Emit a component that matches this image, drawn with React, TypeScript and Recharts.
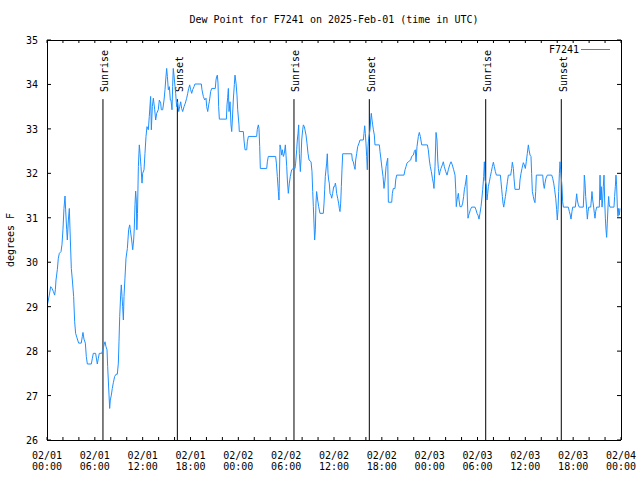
import { LineChart, Line, XAxis, YAxis, ReferenceLine } from "recharts";

const FONT = "'DejaVu Sans Mono', monospace";
const BLUE = "#1e90ff";

// [hours since 2025-02-01 00:00 UTC, dew point degF]
const feb01: [number, number][] = [
  [0.0, 29.0], [0.17, 29.15], [0.29, 29.26], [0.46, 29.45], [0.63, 29.41], [0.8, 29.34], [0.96, 29.26], [1.05, 29.38], [1.13, 29.6], [1.3, 29.84],
  [1.42, 30.09], [1.55, 30.2], [1.76, 30.24], [1.88, 30.4], [2.0, 30.73], [2.13, 31.21], [2.26, 31.49], [2.34, 31.18], [2.47, 30.73], [2.55, 30.5],
  [2.68, 30.95], [2.8, 31.21], [2.93, 30.5], [3.05, 29.86], [3.18, 29.6], [3.34, 29.23], [3.47, 28.66], [3.59, 28.4], [3.76, 28.3], [3.97, 28.18],
  [4.3, 28.18], [4.43, 28.33], [4.51, 28.42], [4.64, 28.27], [4.81, 28.18], [4.93, 27.88], [5.06, 27.71], [5.56, 27.71], [5.69, 27.84], [5.81, 27.95],
  [6.1, 27.95], [6.23, 27.8], [6.31, 27.71], [6.44, 27.84], [6.56, 27.95], [6.86, 27.95], [7.02, 28.03], [7.15, 28.14], [7.28, 28.21], [7.4, 28.1],
  [7.53, 28.03], [7.61, 27.65], [7.69, 27.35], [7.78, 27.01], [7.86, 26.71], [7.94, 26.9], [8.07, 27.01], [8.19, 27.16], [8.32, 27.29], [8.49, 27.43],
  [8.66, 27.48], [8.82, 27.48], [8.95, 27.73], [9.03, 28.21], [9.12, 28.78], [9.24, 29.26], [9.32, 29.49], [9.41, 29.23], [9.49, 29.0], [9.58, 28.7],
  [9.66, 29.23], [9.78, 29.64], [9.91, 30.09], [10.08, 30.31], [10.24, 30.73], [10.37, 30.84], [10.45, 30.73], [10.62, 30.5], [10.75, 30.28], [10.87, 30.5],
  [10.95, 30.77], [11.04, 31.3], [11.12, 31.6], [11.2, 31.4], [11.27, 30.73], [11.35, 31.1], [11.46, 32.15], [11.58, 32.64], [11.67, 32.45], [11.79, 32.15],
  [11.92, 31.78], [12.0, 32.0], [12.17, 32.08], [12.29, 32.45], [12.42, 32.83], [12.54, 33.05], [12.71, 32.98], [12.83, 33.28], [13.0, 33.73], [13.09, 32.98],
  [13.21, 33.5], [13.34, 33.69], [13.51, 33.43], [13.63, 33.2], [13.76, 33.35], [13.96, 33.43], [14.09, 33.65], [14.26, 33.58], [14.34, 33.43], [14.51, 33.43],
  [14.68, 33.65], [14.8, 33.88], [14.89, 34.1], [15.01, 34.36], [15.1, 34.18], [15.22, 33.88], [15.35, 33.95], [15.47, 33.65], [15.55, 33.65], [15.68, 33.43],
  [15.76, 33.95], [15.84, 34.36], [15.93, 34.21], [16.06, 33.95], [16.14, 33.8], [16.26, 33.5], [16.39, 33.61], [16.52, 33.39], [16.64, 33.5], [16.77, 33.61],
  [16.89, 33.46], [17.02, 33.39], [17.19, 33.5], [17.35, 33.58], [17.52, 33.69], [17.65, 33.8], [17.77, 33.91], [17.9, 33.99], [18.02, 33.88], [18.15, 33.8],
  [18.27, 33.88], [18.44, 33.95], [18.56, 34.01], [19.36, 34.01], [19.44, 33.88], [19.61, 33.73], [19.78, 33.65], [19.95, 33.69], [20.03, 33.5], [20.16, 33.39],
  [20.28, 33.54], [20.36, 33.61], [20.53, 33.84], [20.66, 33.91], [21.11, 33.91], [21.2, 34.1], [21.28, 34.18], [21.37, 34.21], [21.45, 34.03], [21.53, 33.5],
  [21.62, 33.22], [22.5, 33.22], [22.58, 33.54], [22.66, 33.7], [22.75, 33.91], [22.83, 33.39], [22.96, 33.61], [23.08, 33.09], [23.17, 32.94], [23.25, 33.2],
  [23.37, 33.65], [23.5, 34.0], [23.58, 34.21], [23.71, 34.03], [23.83, 33.76], [23.92, 33.43],
];

const feb02: [number, number][] = [
  [24.08, 33.09], [24.12, 32.94], [24.63, 32.94], [24.71, 32.75], [24.84, 32.53], [25.05, 32.53], [25.13, 32.71], [25.26, 32.83], [26.3, 32.83], [26.38, 32.99],
  [26.51, 33.09], [26.59, 33.01], [26.68, 32.6], [26.76, 32.11], [27.56, 32.11], [27.64, 32.26], [27.76, 32.38], [28.68, 32.38], [28.77, 32.23], [28.89, 31.93],
  [29.02, 31.59], [29.1, 31.4], [29.14, 31.78], [29.23, 32.64], [29.35, 32.53], [29.44, 32.41], [29.52, 32.53], [29.65, 32.38], [29.77, 32.45], [29.9, 32.64],
  [29.98, 32.41], [30.07, 32.15], [30.15, 31.85], [30.27, 31.55], [30.4, 31.78], [30.52, 31.93], [30.69, 32.08], [30.9, 32.11], [31.11, 32.11], [31.19, 32.23],
  [31.32, 32.53], [31.4, 32.75], [31.49, 32.9], [31.57, 33.09], [31.65, 32.45], [31.78, 32.04], [31.86, 32.3], [31.95, 32.75], [32.07, 32.98], [32.16, 33.09],
  [32.28, 33.05], [32.36, 32.98], [32.49, 32.86], [32.61, 32.68], [32.74, 32.45], [32.87, 32.3], [33.12, 32.26], [33.24, 32.04], [33.33, 31.59], [33.41, 31.25],
  [33.49, 30.88], [33.57, 30.5], [33.66, 30.73], [33.74, 31.33], [33.82, 31.59], [33.95, 31.4], [34.08, 31.25], [34.24, 31.1], [34.66, 31.1], [34.75, 31.33],
  [34.83, 31.63], [34.91, 31.93], [35.08, 32.23], [35.16, 32.44], [35.25, 32.0], [35.33, 31.85], [35.41, 31.78], [35.5, 31.55], [35.62, 31.51], [35.71, 31.44],
  [35.83, 31.55], [35.96, 31.7], [36.08, 31.7], [36.17, 31.78], [36.25, 31.7], [36.33, 31.55], [36.46, 31.44], [36.58, 31.33], [36.67, 31.21], [36.75, 31.14],
  [36.84, 31.33], [36.92, 31.7], [37.0, 32.08], [37.09, 32.44], [38.22, 32.44], [38.3, 32.3], [38.42, 32.26], [38.55, 32.15], [38.64, 32.09], [38.72, 32.3],
  [38.85, 32.45], [38.97, 32.6], [39.14, 32.68], [39.26, 32.75], [39.68, 32.75], [39.76, 32.9], [39.85, 33.07], [39.93, 32.9], [40.01, 32.68], [40.1, 32.38],
  [40.18, 32.08], [40.26, 32.6], [40.35, 32.79], [40.52, 32.98], [40.6, 33.2], [40.68, 33.35], [40.77, 33.2], [40.85, 33.09], [40.94, 32.98], [41.06, 32.86],
  [41.14, 32.64], [41.69, 32.64], [41.77, 32.49], [41.9, 32.3], [42.02, 32.11], [42.15, 31.93], [42.27, 31.66], [42.4, 31.85], [42.53, 32.15], [42.61, 32.23],
  [42.74, 32.34], [42.82, 31.35], [43.24, 31.35], [43.32, 31.55], [43.44, 31.66], [43.65, 31.66], [43.74, 31.85], [43.86, 31.96], [44.78, 31.96], [44.91, 32.08],
  [45.03, 32.15], [45.16, 32.23], [45.32, 32.26], [45.62, 32.3], [45.74, 32.38], [45.95, 32.41], [46.07, 32.49], [46.2, 32.53], [46.29, 32.26], [46.41, 32.6],
  [46.58, 32.83], [46.7, 32.92], [46.83, 32.83], [47.0, 32.64], [47.71, 32.64], [47.83, 32.53], [47.96, 32.3],
];

const feb03: [number, number][] = [
  [48.08, 32.15], [48.21, 32.04], [48.34, 31.89], [48.46, 31.78], [48.54, 31.66], [48.67, 32.15], [48.8, 32.92], [48.92, 32.75], [49.01, 32.3], [49.09, 32.11],
  [49.21, 31.96], [49.3, 32.04], [49.42, 32.11], [49.59, 32.19], [49.71, 32.26], [49.84, 32.15], [50.01, 32.04], [50.18, 31.96], [50.34, 32.08], [50.51, 32.19],
  [50.68, 32.26], [50.84, 32.19], [51.01, 32.08], [51.18, 31.96], [51.27, 31.63], [51.34, 31.25], [51.43, 31.4], [51.51, 31.48], [51.6, 31.55], [51.68, 31.4],
  [51.8, 31.25], [52.01, 31.25], [52.14, 31.33], [52.26, 31.48], [52.35, 31.63], [52.43, 31.7], [52.56, 31.85], [52.64, 31.96], [52.73, 31.4], [52.81, 30.99],
  [52.9, 31.06], [52.98, 31.1], [53.1, 31.18], [53.27, 31.24], [53.69, 31.24], [53.81, 31.18], [53.94, 31.1], [54.06, 31.06], [54.19, 30.97], [54.31, 31.1],
  [54.44, 31.25], [54.53, 31.4], [54.65, 31.63], [54.78, 31.93], [54.86, 32.26], [54.94, 31.85], [55.11, 31.74], [55.19, 31.4], [55.28, 31.55], [55.36, 31.7],
  [55.49, 31.81], [55.61, 31.93], [55.74, 32.04], [55.86, 32.15], [55.99, 32.25], [56.11, 32.15], [56.24, 32.04], [56.37, 31.96], [56.87, 31.96], [56.95, 31.81],
  [57.04, 31.63], [57.12, 31.48], [57.2, 31.33], [57.29, 31.24], [57.37, 31.33], [57.5, 31.48], [57.62, 31.63], [57.75, 31.81], [57.87, 31.96], [58.16, 31.96],
  [58.29, 32.11], [58.37, 32.25], [58.5, 32.11], [58.58, 31.89], [58.7, 31.64], [59.25, 31.64], [59.33, 31.85], [59.46, 32.0], [59.58, 32.11], [59.75, 32.24],
  [59.87, 32.19], [60.0, 32.11], [60.12, 32.26], [60.25, 32.45], [60.38, 32.64], [60.46, 32.53], [60.59, 32.41], [60.71, 32.38], [60.79, 32.0], [60.88, 31.59],
  [61.0, 31.48], [61.09, 31.4], [61.21, 31.34], [61.3, 31.59], [61.38, 31.96], [62.18, 31.96], [62.26, 31.78], [62.38, 31.66], [62.47, 31.78], [62.59, 31.89],
  [62.76, 31.96], [63.31, 31.96], [63.43, 31.89], [63.56, 31.78], [63.68, 31.63], [63.81, 31.44], [63.93, 31.18], [64.01, 30.95], [64.1, 31.18], [64.18, 31.59],
  [64.27, 32.0], [64.35, 32.26], [64.43, 32.08], [64.6, 31.7], [64.68, 31.36], [64.77, 31.24], [65.39, 31.24], [65.52, 31.14], [65.64, 31.06], [65.73, 30.97],
  [65.85, 31.14], [65.94, 31.24], [66.27, 31.24], [66.36, 31.4], [66.44, 31.54], [66.52, 31.4], [66.65, 31.29], [66.77, 31.24], [67.27, 31.24], [67.36, 31.63],
  [67.4, 31.96], [67.49, 31.78], [67.57, 31.48], [67.7, 31.18], [67.78, 30.97], [67.87, 31.14], [67.95, 31.24], [68.2, 31.24], [68.28, 31.4], [68.36, 31.59],
  [68.45, 31.4], [68.57, 31.24], [68.66, 31.1], [68.74, 30.99], [68.82, 31.14], [68.95, 31.24], [69.28, 31.24], [69.37, 31.96], [69.45, 31.4], [69.53, 31.7],
  [69.62, 31.24], [69.7, 31.4], [69.78, 31.7], [69.87, 31.96], [69.95, 31.4], [70.04, 30.99], [70.12, 30.73], [70.2, 30.56], [70.28, 30.88], [70.37, 31.24],
  [70.45, 31.48], [70.53, 31.29], [70.62, 31.24], [71.12, 31.24], [71.2, 31.48], [71.29, 31.7], [71.37, 31.96], [71.45, 31.74], [71.54, 31.24], [71.62, 31.03],
  [71.7, 31.21], [71.79, 31.06], [71.87, 31.21],
];

const sunrises = [7.02, 30.98, 55.03];
const sunsets = [16.35, 40.43, 64.51];

const xTicks = [0, 2, 4, 6, 8, 10, 12, 14, 16, 18, 20, 22, 24, 26, 28, 30, 32, 34, 36, 38, 40, 42, 44, 46, 48, 50, 52, 54, 56, 58, 60, 62, 64, 66, 68, 70, 72];
const yTicks = [26, 27, 28, 29, 30, 31, 32, 33, 34, 35];

const data = [...feb01, ...feb02, ...feb03].map(([h, dew]) => ({ h, dew }));

const events = [
  ...sunrises.map((h) => ({ h, label: "Sunrise" })),
  ...sunsets.map((h) => ({ h, label: "Sunset" })),
];

function tickText(h: number) {
  const day = Math.floor(h / 24) + 1;
  const hh = String(h % 24).padStart(2, "0");
  return [`02/0${day}`, `${hh}:00`];
}

function BottomTick({ x, y, payload }: any) {
  const v = payload.value;
  const [d, t] = tickText(v);
  return (
    <g>
      <line x1={x} x2={x} y1={y} y2={y - 3} stroke="#000" />
      {v % 6 === 0 && (
        <text textAnchor="middle" fontFamily={FONT} fontSize={10} fill="#000">
          <tspan x={x} y={y + 18.5}>{d}</tspan>
          <tspan x={x} y={y + 30}>{t}</tspan>
        </text>
      )}
    </g>
  );
}

function TopTick({ x, y }: any) {
  return <line x1={x} x2={x} y1={y} y2={y + 3} stroke="#000" />;
}

function LeftTick({ x, y, payload }: any) {
  return (
    <g>
      <line x1={x} x2={x + 4} y1={y} y2={y} stroke="#000" />
      <text x={x - 9} y={y + 4} textAnchor="end" fontFamily={FONT} fontSize={10} fill="#000">
        {payload.value}
      </text>
    </g>
  );
}

function RightTick({ x, y }: any) {
  return <line x1={x} x2={x - 4} y1={y} y2={y} stroke="#000" />;
}

function sunShape(label: string) {
  return (p: any) => {
    const top = Math.min(p.y1, p.y2);
    const bottom = Math.max(p.y1, p.y2);
    return (
      <g>
        <line x1={p.x1} x2={p.x1} y1={top} y2={bottom} stroke="#000" strokeWidth={1} />
        <text
          transform={`translate(${p.x1 + 5.5},${top - 7}) rotate(-90)`}
          fontFamily={FONT}
          fontSize={10}
          fill="#000"
        >
          {label}
        </text>
      </g>
    );
  };
}

const border = { stroke: "#000", shapeRendering: "crispEdges" } as any;

export default function App() {
  return (
    <div style={{ position: "absolute", left: 0, top: 0, width: 640, height: 480, background: "#fff" }}>
      <LineChart width={640} height={480} data={data} margin={{ top: 0, right: 0, bottom: 0, left: 0 }}>
        <XAxis
          dataKey="h"
          type="number"
          domain={[0, 72]}
          ticks={xTicks}
          interval={0}
          height={40}
          tickSize={0}
          tickMargin={0}
          tickLine={false}
          axisLine={border}
          tick={BottomTick}
          allowDataOverflow
        />
        <XAxis
          xAxisId="top"
          dataKey="h"
          orientation="top"
          type="number"
          domain={[0, 72]}
          ticks={xTicks}
          interval={0}
          height={40}
          tickSize={0}
          tickMargin={0}
          tickLine={false}
          axisLine={border}
          tick={TopTick}
          allowDataOverflow
        />
        <YAxis
          type="number"
          domain={[26, 35]}
          ticks={yTicks}
          interval={0}
          width={47}
          tickSize={0}
          tickMargin={0}
          tickLine={false}
          axisLine={border}
          tick={LeftTick}
          allowDataOverflow
        />
        <YAxis
          yAxisId="right"
          dataKey="dew"
          orientation="right"
          type="number"
          domain={[26, 35]}
          ticks={yTicks}
          interval={0}
          width={19}
          tickSize={0}
          tickMargin={0}
          tickLine={false}
          axisLine={border}
          tick={RightTick}
          allowDataOverflow
        />
        {events.map((e) => (
          <ReferenceLine
            key={`${e.label}-${e.h}`}
            segment={[
              { x: e.h, y: 26 },
              { x: e.h, y: 33.67 },
            ]}
            ifOverflow="visible"
            shape={sunShape(e.label)}
          />
        ))}
        <Line
          type="linear"
          dataKey="dew"
          stroke={BLUE}
          strokeWidth={1}
          dot={false}
          activeDot={false}
          isAnimationActive={false}
        />
      </LineChart>
      <svg
        width={640}
        height={480}
        style={{ position: "absolute", left: 0, top: 0, pointerEvents: "none" }}
        fontFamily={FONT}
        fontSize={10}
      >
        <text x={334} y={23} textAnchor="middle" fill="#000">
          Dew Point for F7241 on 2025-Feb-01 (time in UTC)
        </text>
        <text transform="translate(14,240) rotate(-90)" textAnchor="middle" fill="#000">
          degrees F
        </text>
        <text x={579} y={53} textAnchor="end" fill="#000">
          F7241
        </text>
        <line x1={581} x2={610} y1={49.5} y2={49.5} stroke={BLUE} strokeWidth={1} />
      </svg>
    </div>
  );
}
